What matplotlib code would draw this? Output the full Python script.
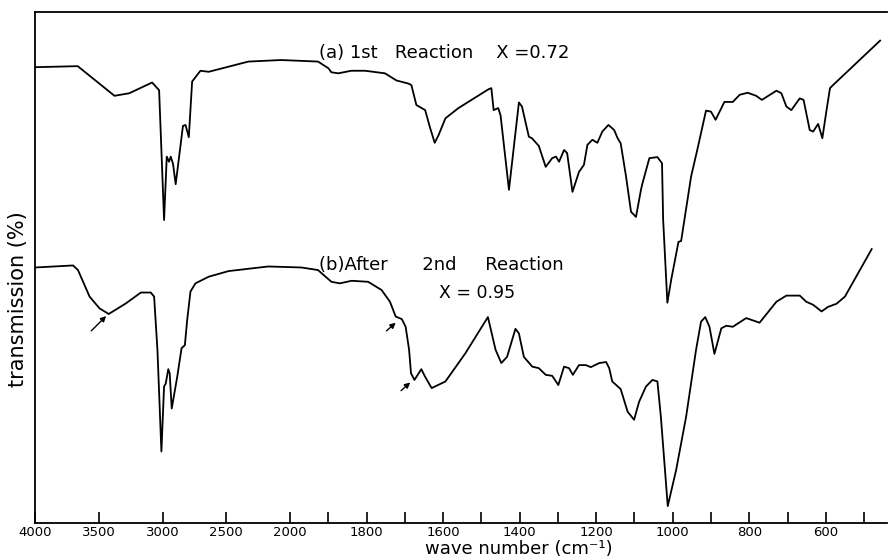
import numpy as np
import matplotlib
matplotlib.use("Agg")
import matplotlib.pyplot as plt

# spectrum (a): 1st reaction, X = 0.72
wn_a = [4000, 3665, 3377, 3261, 3082, 3027, 2988, 2967, 2949, 2936, 2918, 2897,
        2840, 2820, 2794, 2768, 2703, 2638, 2327, 2070, 1927, 1900, 1892, 1874,
        1840, 1804, 1752, 1722, 1691, 1683, 1670, 1647, 1634, 1622, 1612, 1594,
        1560, 1481, 1474, 1468, 1456, 1450, 1428, 1402, 1394, 1376, 1368, 1350,
        1332, 1315, 1305, 1297, 1284, 1276, 1262, 1245, 1232, 1223, 1210, 1197,
        1184, 1168, 1153, 1144, 1136, 1122, 1109, 1096, 1083, 1079, 1061, 1040,
        1028, 1025, 1014, 1004, 985, 978, 952, 935, 913, 900, 888, 865, 843,
        825, 804, 782, 767, 729, 716, 703, 690, 668, 658, 642, 633, 620, 609,
        598, 589, 581, 458]
tr_a = [89.2, 89.4, 83.6, 84.1, 86.2, 84.7, 59.3, 71.7, 70.7, 71.7, 70.3, 66.3,
        77.7, 77.9, 75.5, 86.4, 88.5, 88.3, 90.3, 90.6, 90.3, 89.0, 88.2, 88.0,
        88.5, 88.5, 88.0, 86.6, 86.0, 85.7, 81.8, 80.8, 77.3, 74.4, 75.9, 79.2,
        81.2, 84.9, 85.1, 80.8, 81.2, 79.8, 65.2, 82.3, 81.5, 75.6, 75.3, 73.8,
        69.7, 71.4, 71.7, 70.7, 73.0, 72.4, 64.8, 68.7, 70.1, 74.0, 75.0, 74.4,
        76.6, 77.9, 76.9, 75.3, 74.3, 67.8, 60.9, 59.9, 65.2, 66.5, 71.4, 71.6,
        70.4, 59.3, 43.1, 47.6, 55.0, 55.2, 67.8, 73.3, 80.7, 80.5, 78.9, 82.4,
        82.4, 83.8, 84.2, 83.6, 82.8, 84.6, 84.1, 81.5, 80.8, 83.1, 82.8, 76.9,
        76.6, 78.1, 75.3, 80.8, 85.1, 85.7, 94.4]

# spectrum (b): after 2nd reaction, X = 0.95
wn_b = [4000, 3702, 3663, 3572, 3494, 3422, 3286, 3170, 3092, 3066, 3040, 3009,
        2988, 2975, 2955, 2944, 2928, 2885, 2851, 2825, 2807, 2781, 2742, 2638,
        2482, 2171, 1970, 1927, 1918, 1892, 1870, 1839, 1796, 1761, 1739, 1724,
        1708, 1698, 1689, 1684, 1675, 1657, 1647, 1630, 1594, 1542, 1483, 1463,
        1448, 1433, 1411, 1402, 1389, 1367, 1350, 1332, 1315, 1299, 1284, 1271,
        1261, 1245, 1227, 1214, 1192, 1174, 1166, 1158, 1136, 1118, 1101, 1088,
        1070, 1053, 1040, 1031, 1013, 991, 965, 939, 926, 915, 904, 891, 873,
        860, 843, 808, 773, 729, 703, 668, 651, 633, 611, 594, 572, 550, 480]
tr_b = [50.0, 50.4, 49.5, 44.3, 42.0, 40.9, 43.0, 45.1, 45.1, 44.3, 33.9, 14.0,
        26.7, 27.3, 30.1, 29.3, 22.4, 28.6, 34.2, 34.8, 39.7, 45.3, 46.9, 48.2,
        49.3, 50.2, 50.0, 49.5, 48.9, 47.2, 46.9, 47.4, 47.2, 45.6, 43.3, 40.4,
        39.9, 38.4, 33.9, 29.3, 28.0, 30.1, 28.6, 26.4, 27.7, 33.2, 40.3, 33.9,
        31.3, 32.5, 38.0, 37.1, 32.5, 30.6, 30.3, 29.0, 28.8, 27.0, 30.6, 30.3,
        29.0, 30.9, 30.9, 30.5, 31.3, 31.5, 30.3, 27.7, 26.2, 21.8, 20.2, 23.7,
        26.7, 28.0, 27.7, 20.8, 3.3, 10.4, 20.8, 33.9, 39.4, 40.3, 38.4, 33.1,
        38.1, 38.6, 38.4, 40.1, 39.2, 43.3, 44.5, 44.5, 43.3, 42.7, 41.4, 42.3,
        42.9, 44.3, 53.6]

major_ticks = [4000, 3500, 3000, 2500, 2000, 1800, 1600, 1400, 1200, 1000, 800, 600]
minor_ticks = [1900, 1700, 1500, 1300, 1100, 900, 700, 500]

# arrows marking shoulders in (b): (tail wn, tail T, head wn, head T)
arrows_b = [(3559, 37.6, 3442, 40.5),
            (1748, 37.6, 1724, 39.2),
            (1710, 25.9, 1686, 27.5)]


# grating-change scale: above 2000 cm-1 the chart is compressed 3x
def fwd(w):
    w = np.asarray(w, dtype=float)
    return np.where(w <= 2000, w, 2000 + (w - 2000) / 3.0)


def inv(u):
    u = np.asarray(u, dtype=float)
    return np.where(u <= 2000, u, 2000 + (u - 2000) * 3.0)


plt.rcParams['font.family'] = 'DejaVu Sans'

fig = plt.figure(figsize=(8.89, 5.59), dpi=100)
ax = fig.add_axes([35 / 889, 36 / 559, 852 / 889, 511 / 559])

ax.plot(wn_a, tr_a, color='black', lw=1.3, solid_joinstyle='round')
ax.plot(wn_b, tr_b, color='black', lw=1.3, solid_joinstyle='round')

ax.set_xscale('function', functions=(fwd, inv))
ax.set_xlim(4000, 440)
ax.set_ylim(0, 100)

ax.set_xticks(major_ticks)
ax.set_xticklabels([str(t) for t in major_ticks], fontsize=9.5)
ax.set_xticks(minor_ticks, minor=True)
ax.tick_params(axis='x', which='both', direction='in', length=8, width=1.2, pad=2)
ax.set_yticks([])

for s in ['left', 'bottom', 'top']:
    ax.spines[s].set_linewidth(1.3)
ax.spines['right'].set_visible(False)

ax.text(1925, 92.0, "(a) 1st   Reaction    X =0.72", fontsize=13, va='center', ha='left')
ax.text(1925, 50.5, "(b)After      2nd     Reaction", fontsize=13, va='center', ha='left')
ax.text(1612, 45.0, "X = 0.95", fontsize=12.5, va='center', ha='left')

for x0, y0, x1, y1 in arrows_b:
    ax.annotate("", xy=(x1, y1), xytext=(x0, y0),
                arrowprops=dict(arrowstyle='-|>', color='black', lw=1.0,
                                mutation_scale=8, shrinkA=0, shrinkB=0))

fig.text(519 / 889, 1 - 554 / 559, "wave number (cm\u207b\u00b9)", fontsize=13,
         ha='center', va='baseline')
fig.text(18 / 889, 1 - 299 / 559, "transmission (%)", fontsize=15,
         ha='center', va='center', rotation=90)

fig.savefig("out.png", dpi=100)
